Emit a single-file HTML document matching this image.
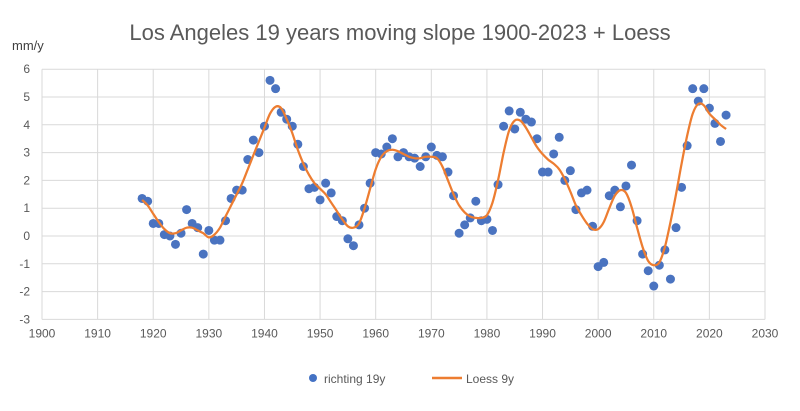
<!DOCTYPE html>
<html><head><meta charset="utf-8"><style>
body{margin:0;background:#fff;font-family:"Liberation Sans",sans-serif}
</style></head><body>
<svg id="c" width="800" height="406" viewBox="0 0 800 406" xmlns="http://www.w3.org/2000/svg">
<text x="400" y="40" text-anchor="middle" font-size="22" fill="#595959">Los Angeles 19 years moving slope 1900-2023 + Loess</text>
<text x="12" y="50" font-size="13" fill="#404040">mm/y</text>
<g id="grid"></g><g id="marks"></g>
<g>
<circle cx="313" cy="378" r="4" fill="#4472c4"/>
<text x="324" y="383" font-size="12" fill="#595959">richting 19y</text>
<line x1="432" y1="378" x2="462" y2="378" stroke="#ed7d31" stroke-width="2.5"/>
<text x="466" y="383" font-size="12" fill="#595959">Loess 9y</text>
</g>
</svg>
<script>
const xTicks=[1900,1910,1920,1930,1940,1950,1960,1970,1980,1990,2000,2010,2020,2030];
const yTicks=[-3,-2,-1,0,1,2,3,4,5,6];
const startYear=1918;
const richting=[1.35,1.25,0.45,0.45,0.05,0.0,-0.3,0.1,0.95,0.45,0.3,-0.65,0.2,-0.15,-0.15,0.55,1.35,1.65,1.65,2.75,3.45,3.0,3.95,5.6,5.3,4.45,4.2,3.95,3.3,2.5,1.7,1.75,1.3,1.9,1.55,0.7,0.55,-0.1,-0.35,0.4,1.0,1.9,3.0,2.95,3.2,3.5,2.85,3.0,2.85,2.8,2.5,2.85,3.2,2.9,2.85,2.3,1.45,0.1,0.4,0.65,1.25,0.55,0.6,0.2,1.85,3.95,4.5,3.85,4.45,4.2,4.1,3.5,2.3,2.3,2.95,3.55,2.0,2.35,0.95,1.55,1.65,0.35,-1.1,-0.95,1.45,1.65,1.05,1.8,2.55,0.55,-0.65,-1.25,-1.8,-1.05,-0.5,-1.55,0.3,1.75,3.25,5.3,4.85,5.3,4.6,4.05,3.4,4.35];
const loess=[1.3,1.1,0.8,0.5,0.25,0.1,0.1,0.2,0.3,0.3,0.2,0.1,-0.05,0.05,0.3,0.7,1.1,1.5,1.9,2.4,2.9,3.4,3.9,4.4,4.65,4.6,4.2,3.7,3.1,2.6,2.2,1.9,1.7,1.5,1.2,0.9,0.6,0.35,0.3,0.45,1.0,1.7,2.4,2.85,3.05,3.1,3.05,2.95,2.85,2.8,2.8,2.85,2.85,2.8,2.5,2.0,1.5,1.1,0.85,0.7,0.65,0.65,0.75,1.2,2.0,3.0,3.8,4.15,4.15,3.9,3.55,3.2,2.95,2.75,2.6,2.4,2.05,1.6,1.1,0.75,0.45,0.25,0.25,0.5,1.0,1.45,1.65,1.55,1.05,0.3,-0.4,-0.9,-1.05,-0.95,-0.4,0.5,1.5,2.6,3.6,4.4,4.75,4.7,4.4,4.2,4.0,3.85];
const NS='http://www.w3.org/2000/svg';
const X=v=>42+(v-1900)*(723/130);
const Y=v=>236-v*27.8;
const grid=document.getElementById('grid'),marks=document.getElementById('marks');
function mk(tag,attrs,parent){const e=document.createElementNS(NS,tag);for(const k in attrs)e.setAttribute(k,attrs[k]);parent.appendChild(e);return e;}
xTicks.forEach(t=>{
 const l=mk('line',{x1:X(t),x2:X(t),y1:Y(6),y2:Y(-3),stroke:'#d9d9d9','stroke-width':1},grid);
 
 
 const tx=mk('text',{x:X(t),y:Y(-3)+18,'text-anchor':'middle','font-size':12,fill:'#595959'},grid);
 tx.textContent=t;
 
 
});
yTicks.forEach(t=>{
 const l=mk('line',{x1:X(1900),x2:X(2030),y1:Y(t),y2:Y(t),stroke:'#d9d9d9','stroke-width':1},grid);
 
 
 const tx=mk('text',{x:X(1900)-12,y:Y(t)+4,'text-anchor':'end','font-size':12,fill:'#595959'},grid);
 tx.textContent=t;
 
 
});
richting.forEach((v,i)=>{
 const c=mk('circle',{cx:X(startYear+i),cy:Y(v),r:4.5,fill:'#4a73c0'},marks);
 
 
});
const pts=loess.map((v,i)=>[X(startYear+i),Y(v)]);
let d='M'+pts[0][0].toFixed(1)+' '+pts[0][1].toFixed(1);
for(let i=0;i<pts.length-1;i++){
 const p0=pts[Math.max(0,i-1)],p1=pts[i],p2=pts[i+1],p3=pts[Math.min(pts.length-1,i+2)];
 const c1=[p1[0]+(p2[0]-p0[0])/6,p1[1]+(p2[1]-p0[1])/6];
 const c2=[p2[0]-(p3[0]-p1[0])/6,p2[1]-(p3[1]-p1[1])/6];
 d+=' C'+c1[0].toFixed(1)+' '+c1[1].toFixed(1)+' '+c2[0].toFixed(1)+' '+c2[1].toFixed(1)+' '+p2[0].toFixed(1)+' '+p2[1].toFixed(1);
}
const p=mk('path',{d:d,fill:'none',stroke:'#ed7d31','stroke-width':2.25,'stroke-linejoin':'round'},marks);


</script>
</body></html>
